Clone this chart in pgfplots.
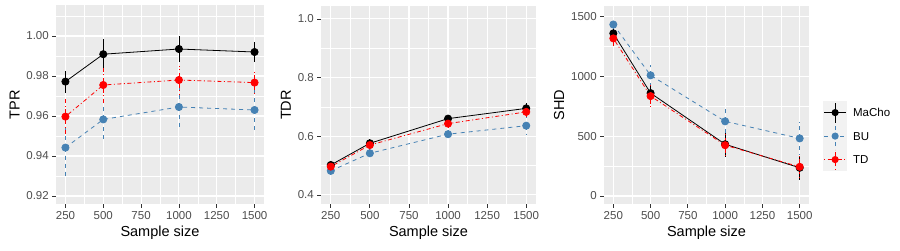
\documentclass[border=0pt]{standalone}
\usepackage{pgfplots}
\pgfplotsset{compat=1.18}
\usepackage{fontspec}
\setmainfont{Liberation Sans}
\definecolor{gg92}{HTML}{EBEBEB}
\definecolor{gg95}{HTML}{F2F2F2}
\definecolor{gg30}{HTML}{4D4D4D}
\definecolor{gg20}{HTML}{333333}
\definecolor{steel}{HTML}{4682B4}
\pgfplotsset{
  ggbase/.style={
    scale only axis, height=198pt,
    axis background/.style={fill=gg92},
    axis line style={draw=none},
    grid=both,
    major grid style={white, line width=1.1pt},
    minor grid style={white, line width=0.55pt},
    tick align=outside, tick pos=left,
    major tick length=3.7pt, minor tick length=0pt,
    tick style={gg20, line width=0.8pt},
    ticklabel style={font=\fontsize{11.5}{12}\selectfont, text=gg30},
    label style={font=\fontsize{14.5}{16}\selectfont, text=black},
    /pgf/number format/assume math mode=true,
    xlabel={Sample size},
    xmin=187.5, xmax=1562.5,
    xtick={250,500,750,1000,1250,1500},
    minor xtick={375,625,875,1125,1375},
    x tick label style={/pgf/number format/.cd, 1000 sep={}},
    xticklabel shift=0pt,
    clip=false,
  },
  ggleg/.style={legend image code/.code={
      \fill[gg95,draw=none,solid] (0pt,-11.75pt) rectangle (24pt,11.75pt);
      \draw (1pt,0pt) -- (23pt,0pt);
      \draw (12pt,-10pt) -- (12pt,10pt);
      \fill[solid,draw=none] (12pt,0pt) circle (3.6pt);
  }},
  macho/.style={black, solid, line width=0.8pt, mark=*, mark size=3.6pt,
    mark options={solid}, ggleg,
    error bars/.cd, y dir=both, y explicit, error mark=none,
    error bar style={black, solid, line width=0.8pt}},
  bu/.style={steel, dash pattern=on 4pt off 4pt, line width=0.8pt, mark=*, mark size=3.6pt,
    mark options={solid}, ggleg,
    error bars/.cd, y dir=both, y explicit, error mark=none,
    error bar style={steel, dash pattern=on 4pt off 4pt, line width=0.8pt}},
  td/.style={red, dash pattern=on 1pt off 2.5pt on 4pt off 2.5pt, line width=0.8pt, mark=*, mark size=3.6pt,
    mark options={solid}, ggleg,
    error bars/.cd, y dir=both, y explicit, error mark=none,
    error bar style={red, dash pattern=on 1pt off 2.5pt on 4pt off 2.5pt, line width=0.8pt}},
}
\begin{document}
\begin{tikzpicture}
\path[use as bounding box] (0,0) rectangle (900pt,250pt);
% Panel 1: TPR
\begin{axis}[ggbase, at={(56pt,46pt)}, anchor=south west, width=208pt, height=199pt,
  ylabel={TPR}, ymin=0.916, ymax=1.0155,
  ytick={0.92,0.94,0.96,0.98,1.00}, minor ytick={0.93,0.95,0.97,0.99,1.01},
  yticklabel style={/pgf/number format/.cd, fixed, fixed zerofill, precision=2}]
\addplot[macho] coordinates {(250,0.9772) +- (0,0.0055) (500,0.9909) +- (0,0.0078) (1000,0.9935) +- (0,0.0063) (1500,0.9920) +- (0,0.0052)};
\addplot[bu] coordinates {(250,0.9442) +- (0,0.0145) (500,0.9583) +- (0,0.0103) (1000,0.9645) +- (0,0.0110) (1500,0.9630) +- (0,0.0100)};
\addplot[td] coordinates {(250,0.9597) +- (0,0.0098) (500,0.9755) +- (0,0.0100) (1000,0.9780) +- (0,0.0070) (1500,0.9767) +- (0,0.0065)};
\end{axis}
% Panel 2: TDR
\begin{axis}[ggbase, at={(321pt,46pt)}, anchor=south west, width=215pt,
  ylabel={TDR}, ymin=0.369, ymax=1.044,
  ytick={0.4,0.6,0.8,1.0}, minor ytick={0.5,0.7,0.9},
  yticklabel style={/pgf/number format/.cd, fixed, fixed zerofill, precision=1}]
\addplot[macho] coordinates {(250,0.502) +- (0,0.014) (500,0.576) +- (0,0.014) (1000,0.660) +- (0,0.013) (1500,0.695) +- (0,0.019)};
\addplot[bu] coordinates {(250,0.482) +- (0,0.016) (500,0.542) +- (0,0.017) (1000,0.607) +- (0,0.025) (1500,0.636) +- (0,0.029)};
\addplot[td] coordinates {(250,0.4965) +- (0,0.013) (500,0.570) +- (0,0.015) (1000,0.643) +- (0,0.016) (1500,0.683) +- (0,0.017)};
\end{axis}
% Panel 3: SHD
\begin{axis}[ggbase, at={(604pt,46pt)}, anchor=south west, width=205pt,
  ylabel={SHD}, ymin=-67, ymax=1590,
  ytick={0,500,1000,1500}, minor ytick={250,750,1250},
  yticklabel style={/pgf/number format/.cd, 1000 sep={}},
  legend style={at={(1.068,0.343)}, anchor=west, draw=none, fill=none,
    inner sep=0pt, row sep=0pt, font=\fontsize{11.5}{12}\selectfont,
    nodes={inner sep=0pt, text depth=0pt},
    /tikz/every odd column/.append style={column sep=6pt}},
  legend cell align=left]
\addplot[macho] coordinates {(250,1361) +- (0,50) (500,861) +- (0,65) (1000,433) +- (0,105) (1500,236) +- (0,100)};
\addplot[bu] coordinates {(250,1435) +- (0,40) (500,1010) +- (0,90) (1000,625) +- (0,118) (1500,482) +- (0,135)};
\addplot[td] coordinates {(250,1319) +- (0,70) (500,836) +- (0,95) (1000,425) +- (0,108) (1500,244) +- (0,100)};
\legend{MaCho,BU,TD}
\end{axis}
\end{tikzpicture}
\end{document}
